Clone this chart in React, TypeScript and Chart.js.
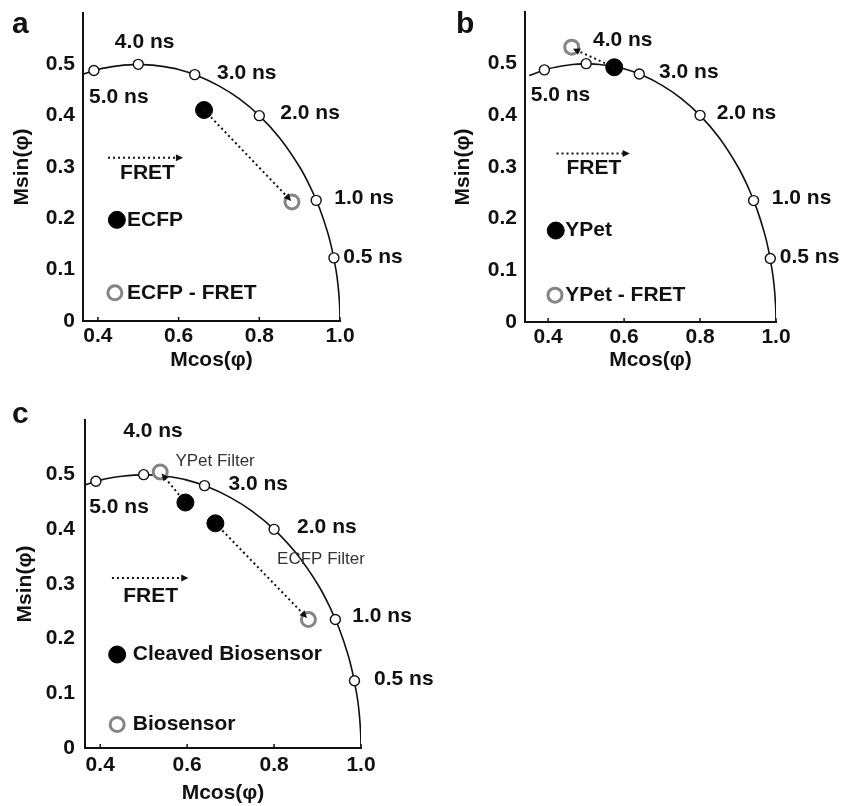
import React, { useEffect, useRef } from "react";
import { Chart, registerables } from "chart.js";
Chart.register(...registerables);

// ---------- shared data ----------
const ARC_X = [0.35, 0.40, 0.45, 0.50, 0.55, 0.60, 0.65, 0.70, 0.75, 0.80, 0.85, 0.90, 0.93, 0.95, 0.97, 0.98, 0.99, 0.995, 0.999, 1.0];
const ARC_Y = [0.477, 0.490, 0.497, 0.500, 0.497, 0.490, 0.477, 0.458, 0.433, 0.400, 0.357, 0.300, 0.255, 0.218, 0.171, 0.140, 0.0995, 0.0707, 0.0316, 0.0];

const LIFETIME_LABELS = ["0.5 ns", "1.0 ns", "2.0 ns", "3.0 ns", "4.0 ns", "5.0 ns"];
const LIFETIME_G = [0.985, 0.941, 0.800, 0.640, 0.500, 0.390];
const LIFETIME_S = [0.123, 0.235, 0.400, 0.480, 0.500, 0.488];

const Y_TICKS = [0, 0.1, 0.2, 0.3, 0.4, 0.5];
const Y_TICK_LABELS = ["0", "0.1", "0.2", "0.3", "0.4", "0.5"];
const X_TICKS = [0.4, 0.6, 0.8, 1.0];
const X_TICK_LABELS = ["0.4", "0.6", "0.8", "1.0"];

const X_TITLE = "Mcos(φ)";
const Y_TITLE = "Msin(φ)";
const FRET_TEXT = "FRET";

// ---------- panel a ----------
const A_FILLED_X = [0.663];
const A_FILLED_Y = [0.411];
const A_HOLLOW_X = [0.881];
const A_HOLLOW_Y = [0.232];
const A_LEGEND_LABELS = ["ECFP", "ECFP - FRET"];
const A_LEGEND_X = [0.447, 0.442];
const A_LEGEND_Y = [0.197, 0.055];
const A_LEGEND_TEXT_X = [0.472, 0.472];
const A_ARROWS = [[0.663, 0.411, 0.879, 0.234], [0.425, 0.318, 0.611, 0.318]];
const A_LT_LABEL_X = [1.008, 0.986, 0.852, 0.695, 0.442, 0.378];
const A_LT_LABEL_Y = [0.125, 0.240, 0.404, 0.483, 0.544, 0.435];
const A_FRET_POS = [0.455, 0.288];

// ---------- panel b ----------
const B_FILLED_X = [0.574];
const B_FILLED_Y = [0.493];
const B_HOLLOW_X = [0.462];
const B_HOLLOW_Y = [0.532];
const B_LEGEND_LABELS = ["YPet", "YPet - FRET"];
const B_LEGEND_X = [0.420, 0.418];
const B_LEGEND_Y = [0.177, 0.052];
const B_LEGEND_TEXT_X = [0.445, 0.445];
const B_ARROWS = [[0.574, 0.493, 0.465, 0.529], [0.422, 0.326, 0.615, 0.326]];
const B_LT_LABEL_X = [1.010, 0.989, 0.844, 0.692, 0.518, 0.354];
const B_LT_LABEL_Y = [0.125, 0.239, 0.404, 0.483, 0.545, 0.439];
const B_FRET_POS = [0.448, 0.297];

// ---------- panel c ----------
const C_FILLED_X = [0.596, 0.665];
const C_FILLED_Y = [0.449, 0.411];
const C_HOLLOW_X = [0.538, 0.879];
const C_HOLLOW_Y = [0.505, 0.235];
const C_LEGEND_LABELS = ["Cleaved Biosensor", "Biosensor"];
const C_LEGEND_X = [0.439, 0.439];
const C_LEGEND_Y = [0.171, 0.043];
const C_LEGEND_TEXT_X = [0.475, 0.475];
const C_ARROWS = [[0.596, 0.449, 0.541, 0.502], [0.665, 0.411, 0.876, 0.238], [0.427, 0.311, 0.603, 0.311]];
const C_LT_LABEL_X = [1.030, 0.980, 0.853, 0.695, 0.453, 0.375];
const C_LT_LABEL_Y = [0.126, 0.241, 0.404, 0.483, 0.579, 0.441];
const C_FRET_POS = [0.453, 0.278];
const C_FILTER_LABELS = ["YPet Filter", "ECFP Filter"];
const C_FILTER_X = [0.573, 0.807];
const C_FILTER_Y = [0.524, 0.345];

const FONT = "'Liberation Sans', Arial, sans-serif";
const GRAY = "#858585";

type Spec = {
  letter: string;
  left: number; top: number; w: number; h: number;
  padTop: number; padRight: number;
  yAxisW: number; xAxisH: number; xMin: number;
  yTitlePad: number; xTitlePad: number; xTickPad: number; yTickPad: number;
  letterX: number; letterY: number;
  filledX: number[]; filledY: number[];
  hollowX: number[]; hollowY: number[];
  legendLabels: string[]; legendX: number[]; legendY: number[]; legendTextX: number[];
  arrows: number[][];
  ltX: number[]; ltY: number[];
  fret: number[];
  extraLabels?: string[]; extraX?: number[]; extraY?: number[];
};

const SPECS: Spec[] = [
  {
    letter: "a", left: 0, top: 0, w: 425, h: 385, padTop: 13, padRight: 85,
    yAxisW: 83, xAxisH: 64, xMin: 0.363, yTitlePad: 10, xTitlePad: 12, xTickPad: 3, yTickPad: 8,
    letterX: 12, letterY: 25,
    filledX: A_FILLED_X, filledY: A_FILLED_Y, hollowX: A_HOLLOW_X, hollowY: A_HOLLOW_Y,
    legendLabels: A_LEGEND_LABELS, legendX: A_LEGEND_X, legendY: A_LEGEND_Y, legendTextX: A_LEGEND_TEXT_X,
    arrows: A_ARROWS, ltX: A_LT_LABEL_X, ltY: A_LT_LABEL_Y, fret: A_FRET_POS,
  },
  {
    letter: "b", left: 442, top: 0, w: 407, h: 385, padTop: 12, padRight: 73,
    yAxisW: 83, xAxisH: 63, xMin: 0.339, yTitlePad: 9, xTitlePad: 12, xTickPad: 3, yTickPad: 8,
    letterX: 14, letterY: 25,
    filledX: B_FILLED_X, filledY: B_FILLED_Y, hollowX: B_HOLLOW_X, hollowY: B_HOLLOW_Y,
    legendLabels: B_LEGEND_LABELS, legendX: B_LEGEND_X, legendY: B_LEGEND_Y, legendTextX: B_LEGEND_TEXT_X,
    arrows: B_ARROWS, ltX: B_LT_LABEL_X, ltY: B_LT_LABEL_Y, fret: B_FRET_POS,
  },
  {
    letter: "c", left: 0, top: 395, w: 445, h: 411, padTop: 25, padRight: 84,
    yAxisW: 85, xAxisH: 58, xMin: 0.365, yTitlePad: 13, xTitlePad: 0, xTickPad: 5, yTickPad: 10,
    letterX: 12, letterY: 20,
    filledX: C_FILLED_X, filledY: C_FILLED_Y, hollowX: C_HOLLOW_X, hollowY: C_HOLLOW_Y,
    legendLabels: C_LEGEND_LABELS, legendX: C_LEGEND_X, legendY: C_LEGEND_Y, legendTextX: C_LEGEND_TEXT_X,
    arrows: C_ARROWS, ltX: C_LT_LABEL_X, ltY: C_LT_LABEL_Y, fret: C_FRET_POS,
    extraLabels: C_FILTER_LABELS, extraX: C_FILTER_X, extraY: C_FILTER_Y,
  },
];

function pts(xs: number[], ys: number[]) {
  return xs.map((x, i) => ({ x, y: ys[i] }));
}

function drawArrow(ctx: CanvasRenderingContext2D, x1: number, y1: number, x2: number, y2: number) {
  const ang = Math.atan2(y2 - y1, x2 - x1);
  const head = 8;
  const ex = x2 - Math.cos(ang) * head * 0.8;
  const ey = y2 - Math.sin(ang) * head * 0.8;
  ctx.save();
  ctx.strokeStyle = "#111";
  ctx.lineWidth = 2;
  ctx.setLineDash([2, 3]);
  ctx.beginPath();
  ctx.moveTo(x1, y1);
  ctx.lineTo(ex, ey);
  ctx.stroke();
  ctx.setLineDash([]);
  ctx.fillStyle = "#111";
  ctx.beginPath();
  ctx.moveTo(x2, y2);
  ctx.lineTo(x2 - Math.cos(ang - 0.45) * head, y2 - Math.sin(ang - 0.45) * head);
  ctx.lineTo(x2 - Math.cos(ang + 0.45) * head, y2 - Math.sin(ang + 0.45) * head);
  ctx.closePath();
  ctx.fill();
  ctx.restore();
}

function buildConfig(spec: Spec): any {
  const annot = {
    id: "annot" + spec.letter,
    afterDatasetsDraw(chart: any) {
      const ctx = chart.ctx as CanvasRenderingContext2D;
      const xs = chart.scales.x;
      const ys = chart.scales.y;
      ctx.save();
      ctx.strokeStyle = "#111";
      ctx.lineWidth = 1.5;
      X_TICKS.forEach((v) => {
        const px = xs.getPixelForValue(v);
        ctx.beginPath();
        ctx.moveTo(px, chart.chartArea.bottom);
        ctx.lineTo(px, chart.chartArea.bottom - 4);
        ctx.stroke();
      });
      ctx.restore();
      spec.arrows.forEach((a) => {
        drawArrow(ctx, xs.getPixelForValue(a[0]), ys.getPixelForValue(a[1]), xs.getPixelForValue(a[2]), ys.getPixelForValue(a[3]));
      });
    },
    afterDraw(chart: any) {
      const ctx = chart.ctx as CanvasRenderingContext2D;
      const xs = chart.scales.x;
      const ys = chart.scales.y;
      ctx.save();
      ctx.fillStyle = "#111";
      ctx.textBaseline = "middle";
      ctx.textAlign = "left";
      ctx.font = `bold 21px ${FONT}`;
      LIFETIME_LABELS.forEach((t, i) => {
        ctx.fillText(t, xs.getPixelForValue(spec.ltX[i]), ys.getPixelForValue(spec.ltY[i]));
      });
      ctx.fillText(FRET_TEXT, xs.getPixelForValue(spec.fret[0]), ys.getPixelForValue(spec.fret[1]));
      spec.legendLabels.forEach((t, i) => {
        ctx.fillText(t, xs.getPixelForValue(spec.legendTextX[i]), ys.getPixelForValue(spec.legendY[i]));
      });
      if (spec.extraLabels) {
        ctx.font = `17px ${FONT}`;
        ctx.fillStyle = "#333";
        spec.extraLabels.forEach((t, i) => {
          ctx.fillText(t, xs.getPixelForValue(spec.extraX![i]), ys.getPixelForValue(spec.extraY![i]));
        });
      }
      ctx.fillStyle = "#111";
      ctx.font = `bold 30px ${FONT}`;
      ctx.fillText(spec.letter, spec.letterX, spec.letterY);
      ctx.restore();
    },
  };

  const tickFont = { family: FONT, size: 21, weight: "bold" as const };
  const titleFont = { family: FONT, size: 21, weight: "bold" as const };

  return {
    type: "scatter",
    data: {
      datasets: [
        {
          label: "arc",
          data: pts(ARC_X, ARC_Y),
          showLine: true,
          pointRadius: 0,
          borderColor: "#111",
          borderWidth: 1.6,
          tension: 0.4,
          order: 10,
        },
        {
          label: "lifetimes",
          data: pts(LIFETIME_G, LIFETIME_S),
          pointRadius: 5,
          pointBackgroundColor: "#ffffff",
          pointBorderColor: "#111",
          pointBorderWidth: 1.4,
          order: 9,
        },
        {
          label: "filled",
          data: pts(spec.filledX, spec.filledY).concat([{ x: spec.legendX[0], y: spec.legendY[0] }]),
          pointRadius: 8.5,
          pointBackgroundColor: "#000",
          pointBorderColor: "#000",
          pointBorderWidth: 1,
          order: 8,
        },
        {
          label: "hollow",
          data: pts(spec.hollowX, spec.hollowY).concat([{ x: spec.legendX[1], y: spec.legendY[1] }]),
          pointRadius: 7,
          pointBackgroundColor: "#ffffff",
          pointBorderColor: GRAY,
          pointBorderWidth: 3,
          order: 7,
        },
      ],
    },
    options: {
      animation: false,
      responsive: false,
      devicePixelRatio: 1,
      layout: { padding: { top: spec.padTop, right: spec.padRight, left: 0, bottom: 0 } },
      plugins: { legend: { display: false }, tooltip: { enabled: false } },
      scales: {
        x: {
          type: "linear",
          position: "bottom",
          min: spec.xMin,
          max: 1.0,
          grid: { display: true, drawOnChartArea: false, drawTicks: false },
          border: { display: true, color: "#111", width: 2 },
          ticks: {
            autoSkip: false,
            maxRotation: 0,
            padding: spec.xTickPad,
            color: "#111",
            font: tickFont,
            callback: (v: number) => X_TICK_LABELS[X_TICKS.findIndex((t) => Math.abs(t - v) < 1e-6)] ?? "",
          },
          afterBuildTicks: (s: any) => { s.ticks = X_TICKS.map((v) => ({ value: v })); },
          afterFit: (s: any) => { s.height = spec.xAxisH; s.paddingLeft = 0; s.paddingRight = 0; },
          title: { display: true, text: X_TITLE, color: "#111", font: titleFont, padding: { top: 0, bottom: spec.xTitlePad } },
        },
        y: {
          type: "linear",
          position: "left",
          min: 0,
          max: 0.6,
          grid: { display: true, drawOnChartArea: false, drawTicks: false },
          border: { display: true, color: "#111", width: 2 },
          ticks: {
            autoSkip: false,
            padding: spec.yTickPad,
            color: "#111",
            font: tickFont,
            callback: (v: number) => Y_TICK_LABELS[Y_TICKS.findIndex((t) => Math.abs(t - v) < 1e-6)] ?? "",
          },
          afterBuildTicks: (s: any) => { s.ticks = Y_TICKS.map((v) => ({ value: v })); },
          afterFit: (s: any) => { s.width = spec.yAxisW; s.paddingTop = 0; s.paddingBottom = 0; },
          title: { display: true, text: Y_TITLE, color: "#111", font: titleFont, padding: { top: spec.yTitlePad, bottom: 0 } },
        },
      },
    },
    plugins: [annot],
  };
}

function Panel({ spec }: { spec: Spec }) {
  const ref = useRef<HTMLCanvasElement>(null);
  useEffect(() => {
    const chart = new Chart(ref.current as HTMLCanvasElement, buildConfig(spec));
    return () => chart.destroy();
  }, [spec]);
  return (
    <canvas
      ref={ref}
      width={spec.w}
      height={spec.h}
      style={{ position: "absolute", left: spec.left, top: spec.top, width: spec.w, height: spec.h }}
    />
  );
}

export default function App() {
  return (
    <div style={{ position: "absolute", left: 0, top: 0, width: 849, height: 806, background: "#ffffff", overflow: "hidden" }}>
      {SPECS.map((s) => (
        <Panel key={s.letter} spec={s} />
      ))}
    </div>
  );
}
